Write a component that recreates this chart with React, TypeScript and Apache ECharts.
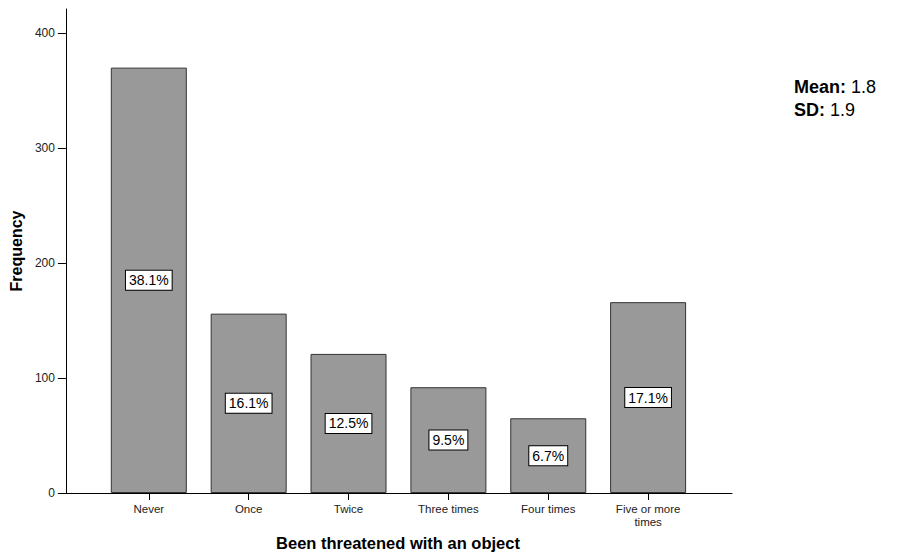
import React, { useEffect, useRef } from "react";
import * as echarts from "echarts";

const categories = ["Never", "Once", "Twice", "Three times", "Four times", "Five or more\ntimes"];
const frequencies = [370, 156, 121, 92, 65, 166];
const yTicks = [0, 100, 200, 300, 400];
const xTitle = "Been threatened with an object";
const yTitle = "Frequency";
const meanValue = "1.8";
const sdValue = "1.9";

const FONT = "'Liberation Sans', Arial, sans-serif";

export default function App() {
  const ref = useRef<HTMLDivElement>(null);
  useEffect(() => {
    if (!ref.current) return;
    const chart = echarts.init(ref.current, undefined, { renderer: "svg" });
    const total = frequencies.reduce((a, b) => a + b, 0);
    const idx = categories.map((_, i) => i);
    chart.setOption({
      animation: false,
      backgroundColor: "#ffffff",
      textStyle: { fontFamily: FONT },
      grid: { left: 65, right: 176, top: 9, bottom: 61 },
      xAxis: {
        type: "value",
        min: -0.83,
        max: 5.84,
        splitLine: { show: false },
        axisLine: { show: true, onZero: false, lineStyle: { color: "#000", width: 1 } },
        axisTick: { show: true, customValues: idx, length: 7, lineStyle: { color: "#000" } },
        axisLabel: {
          customValues: idx,
          formatter: (v: number) => categories[Math.round(v)] ?? "",
          color: "#222",
          fontSize: 11.5,
          fontFamily: FONT,
          margin: 9,
          lineHeight: 13,
        },
      },
      yAxis: {
        type: "value",
        min: 0,
        max: 421,
        interval: 100,
        splitLine: { show: false },
        axisLine: { show: true, onZero: false, lineStyle: { color: "#000", width: 1 } },
        axisTick: { show: true, length: 8, lineStyle: { color: "#000" }, customValues: yTicks },
        axisLabel: { color: "#222", fontSize: 12, fontFamily: FONT, margin: 11, customValues: yTicks },
        name: yTitle,
        nameLocation: "middle",
        nameRotate: 90,
        nameGap: 36,
        nameTextStyle: { fontWeight: "bold", fontSize: 16, color: "#000", fontFamily: FONT },
      },
      series: [
        {
          type: "bar",
          barWidth: 76,
          data: frequencies.map((v, i) => [i, v]),
          itemStyle: { color: "#999999", borderColor: "#333333", borderWidth: 1 },
          label: {
            show: true,
            position: "inside",
            formatter: (p: any) => ((p.value[1] / total) * 100).toFixed(1) + "%",
            color: "#000",
            fontSize: 14,
            fontFamily: FONT,
            backgroundColor: "#ffffff",
            borderColor: "#000",
            borderWidth: 1,
            padding: [3, 3, 2, 3],
          },
        },
      ],
      graphic: [
        {
          type: "text",
          x: 398,
          y: 543,
          style: {
            text: xTitle,
            fontWeight: "bold",
            fontSize: 16.5,
            fontFamily: FONT,
            fill: "#000",
            textAlign: "center",
            textVerticalAlign: "middle",
          },
        },
        {
          type: "text",
          x: 794,
          y: 87,
          style: {
            text: "{b|Mean:} " + meanValue,
            rich: { b: { fontWeight: "bold", fontSize: 18, fontFamily: FONT, fill: "#000" } },
            fontSize: 18,
            fontFamily: FONT,
            fill: "#000",
            textVerticalAlign: "middle",
          },
        },
        {
          type: "text",
          x: 794,
          y: 110,
          style: {
            text: "{b|SD:} " + sdValue,
            rich: { b: { fontWeight: "bold", fontSize: 18, fontFamily: FONT, fill: "#000" } },
            fontSize: 18,
            fontFamily: FONT,
            fill: "#000",
            textVerticalAlign: "middle",
          },
        },
      ],
    });
    return () => chart.dispose();
  }, []);
  return <div ref={ref} style={{ width: 908, height: 554, position: "absolute", left: 0, top: 0 }} />;
}
